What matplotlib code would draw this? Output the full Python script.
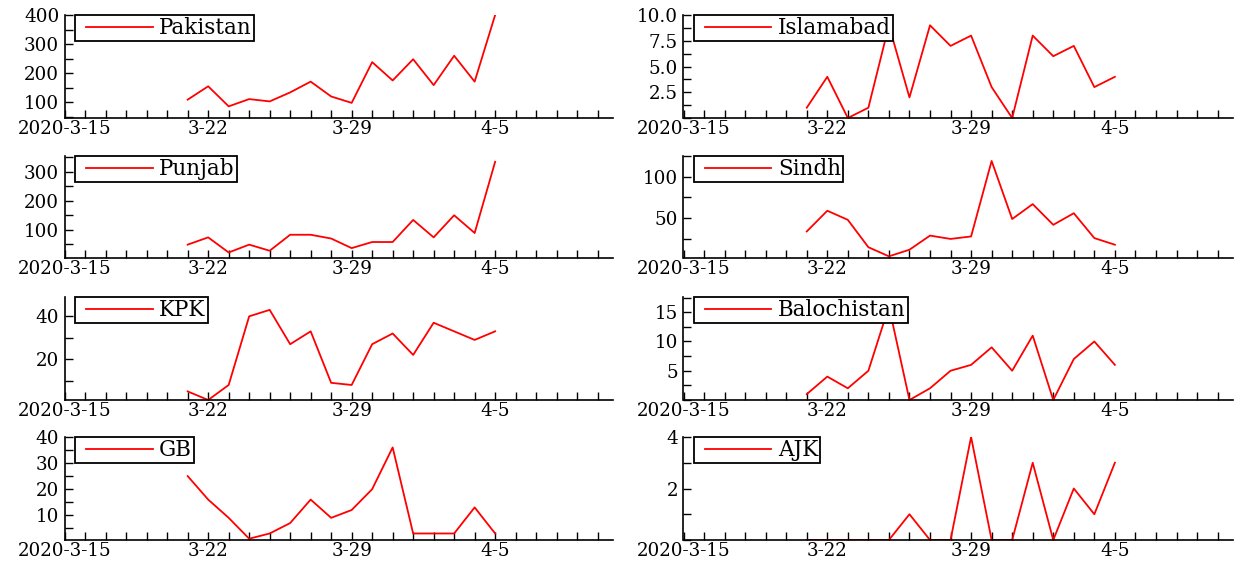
import matplotlib
matplotlib.use('Agg')
import matplotlib.pyplot as plt
import matplotlib.dates as mdates
import pandas as pd
from matplotlib.ticker import FixedLocator, MultipleLocator, FormatStrFormatter
from matplotlib.legend_handler import HandlerLine2D

plt.rcParams['font.family'] = ['DejaVu Serif']

# ---------------- data ----------------
dates = ['2020-03-21', '2020-03-22', '2020-03-23', '2020-03-24', '2020-03-25',
         '2020-03-26', '2020-03-27', '2020-03-28', '2020-03-29', '2020-03-30',
         '2020-03-31', '2020-04-01', '2020-04-02', '2020-04-03', '2020-04-04',
         '2020-04-05']
pakistan = [109, 155, 86, 111, 103, 134, 171, 120, 98, 238, 175, 248, 159, 260, 171, 400]
islamabad = [1, 4, 0, 1, 9, 2, 9, 7, 8, 3, 0, 8, 6, 7, 3, 4]
punjab = [49, 74, 22, 49, 28, 83, 83, 70, 37, 58, 58, 134, 74, 150, 89, 334]
sindh = [34, 59, 48, 15, 4, 12, 29, 25, 28, 119, 49, 67, 42, 56, 26, 18]
kpk = [5, 1, 8, 40, 43, 27, 33, 9, 8, 27, 32, 22, 37, 33, 29, 33]
balochistan = [1, 4, 2, 5, 16, 0, 2, 5, 6, 9, 5, 11, 0, 7, 10, 6]
gb = [25, 16, 9, 1, 3, 7, 16, 9, 12, 20, 36, 3, 3, 3, 13, 3]
ajk = [0, 0, 0, 0, 0, 1, 0, 0, 4, 0, 0, 3, 0, 2, 1, 3]

region_names = ['Pakistan', 'Islamabad', 'Punjab', 'Sindh', 'KPK', 'Balochistan', 'GB', 'AJK']
xtick_dates = ['2020-03-15', '2020-03-22', '2020-03-29', '2020-04-05']
xtick_labels = ['2020-3-15', '3-22', '3-29', '4-5']

yticks_pakistan = [100, 200, 300, 400]
yticks_islamabad = [2.5, 5.0, 7.5, 10.0]
yticks_punjab = [100, 200, 300]
yticks_sindh = [50, 100]
yticks_kpk = [20, 40]
yticks_balochistan = [5, 10, 15]
yticks_gb = [10, 20, 30, 40]
yticks_ajk = [2, 4]

# ---------------- layout / style ----------------
W, H = 1238, 565
fig = plt.figure(figsize=(W / 100, H / 100), dpi=100)

col_px = [(64.7, 613.0), (683.5, 1233.0)]
row_px = [(15, 118), (156, 258), (297, 400), (437, 540)]

panels = [
    (pakistan, yticks_pakistan, 50, (46, 400), '%d'),
    (islamabad, yticks_islamabad, 1.25, (0, 10), '%.1f'),
    (punjab, yticks_punjab, 50, (3, 354), '%d'),
    (sindh, yticks_sindh, 25, (2, 125), '%d'),
    (kpk, yticks_kpk, 10, (1, 49), '%d'),
    (balochistan, yticks_balochistan, 2.5, (0, 17.6), '%d'),
    (gb, yticks_gb, 5, (0.5, 40), '%d'),
    (ajk, yticks_ajk, 1, (0, 4), '%d'),
]

x = pd.to_datetime(dates)
x0 = pd.Timestamp('2020-03-15')
x1 = x0 + pd.Timedelta(days=26.75)
major_x = [mdates.date2num(pd.Timestamp(d)) for d in xtick_dates]

for i, (name, (vals, yt, minor, ylim, fmt)) in enumerate(zip(region_names, panels)):
    r, c = divmod(i, 2)
    lpx, rpx = col_px[c]
    tpx, bpx = row_px[r]
    ax = fig.add_axes([lpx / W, 1 - bpx / H, (rpx - lpx) / W, (bpx - tpx) / H])
    line, = ax.plot(x, vals, color='#ff0000', lw=1.3, label=name)
    ax.set_xlim(x0, x1)
    ax.set_ylim(*ylim)
    ax.xaxis.set_major_locator(FixedLocator(major_x))
    ax.set_xticklabels(xtick_labels)
    ax.xaxis.set_minor_locator(mdates.DayLocator())
    ax.yaxis.set_major_locator(FixedLocator(yt))
    ax.yaxis.set_major_formatter(FormatStrFormatter(fmt))
    ax.yaxis.set_minor_locator(MultipleLocator(minor))
    for s in ['top', 'right']:
        ax.spines[s].set_visible(False)
    for s in ['left', 'bottom']:
        ax.spines[s].set_linewidth(1.2)
    ax.tick_params(axis='both', which='both', direction='in', length=5.5, width=1.0,
                   labelsize=13.2, colors='black')
    ax.tick_params(axis='y', which='both', pad=4)
    ax.tick_params(axis='x', which='both', pad=1.5)
    leg = ax.legend(handles=[line], loc='upper left', bbox_to_anchor=(0.019, 1.0),
                    borderaxespad=0, borderpad=0.1, handlelength=3.5, handletextpad=0.3,
                    fontsize=15.5, frameon=True, fancybox=False, edgecolor='black',
                    framealpha=1, handler_map={line: HandlerLine2D(xpad=0.4)})
    leg.get_frame().set_linewidth(1.3)

fig.savefig('out.png', dpi=100)
